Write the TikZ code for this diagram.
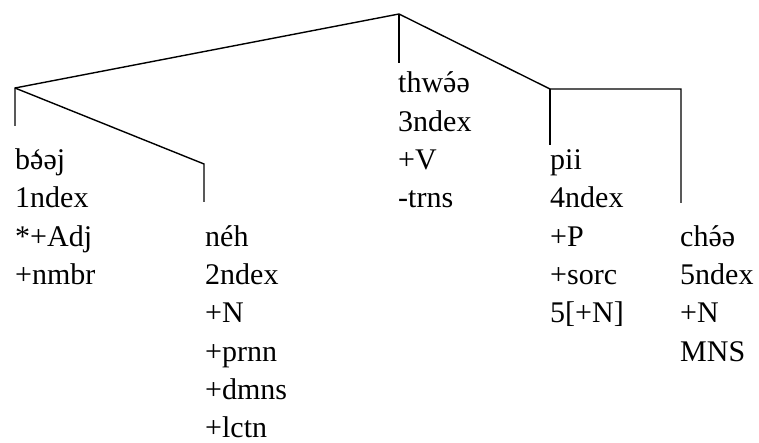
\documentclass[tikz,border=0pt]{standalone}
\usepackage{fontspec}
\setmainfont{Liberation Serif}
\newcommand\acuteon[1]{\accent"00B4 #1}
\newcommand\graveon[1]{\accent"0060 #1}
\begin{document}
\begin{tikzpicture}[x=1pt,y=-1pt,
  branch/.style={line width=1.4pt, line join=miter},
  lbl/.style={anchor=base west, inner sep=0pt, font=\fontsize{30}{38.3}\selectfont}]
\path[use as bounding box] (0,0) rectangle (759,443);
% tree points
\coordinate (root) at (399,14);
\coordinate (rootend) at (399,63);
\coordinate (nL) at (15,88);
\coordinate (nLend) at (15,126);
\coordinate (nN) at (204,164);
\coordinate (nNend) at (204,202);
\coordinate (nR) at (550,89);
\coordinate (nRend) at (550,145);
\coordinate (nC) at (681,89);
\coordinate (nCend) at (681,203);
% branches
\draw[branch] (nLend) -- (nL) -- (root) -- (nR) -- (nC) -- (nCend);
\draw[branch] (nL) -- (nN) -- (nNend);
\draw[branch] (root) -- (rootend);
\draw[branch] (nR) -- (nRend);
% labels
\node[lbl] (w1) at (15,169.6) {\begin{tabular}[t]{@{}l@{}}b\graveon{ə}əj\\1ndex\\{*}+Adj\\+nmbr\end{tabular}};
\node[lbl] (w2) at (205,246.2) {\begin{tabular}[t]{@{}l@{}}néh\\2ndex\\+N\\+prnn\\+dmns\\+lctn\end{tabular}};
\node[lbl] (w3) at (398,93) {\begin{tabular}[t]{@{}l@{}}thw\acuteon{ə}ə\\3ndex\\+V\\-trns\end{tabular}};
\node[lbl] (w4) at (550,169.6) {\begin{tabular}[t]{@{}l@{}}pii\\4ndex\\+P\\+sorc\\5[+N]\end{tabular}};
\node[lbl] (w5) at (680,246.2) {\begin{tabular}[t]{@{}l@{}}ch\acuteon{ə}ə\\5ndex\\+N\\MNS\end{tabular}};
\end{tikzpicture}
\end{document}
